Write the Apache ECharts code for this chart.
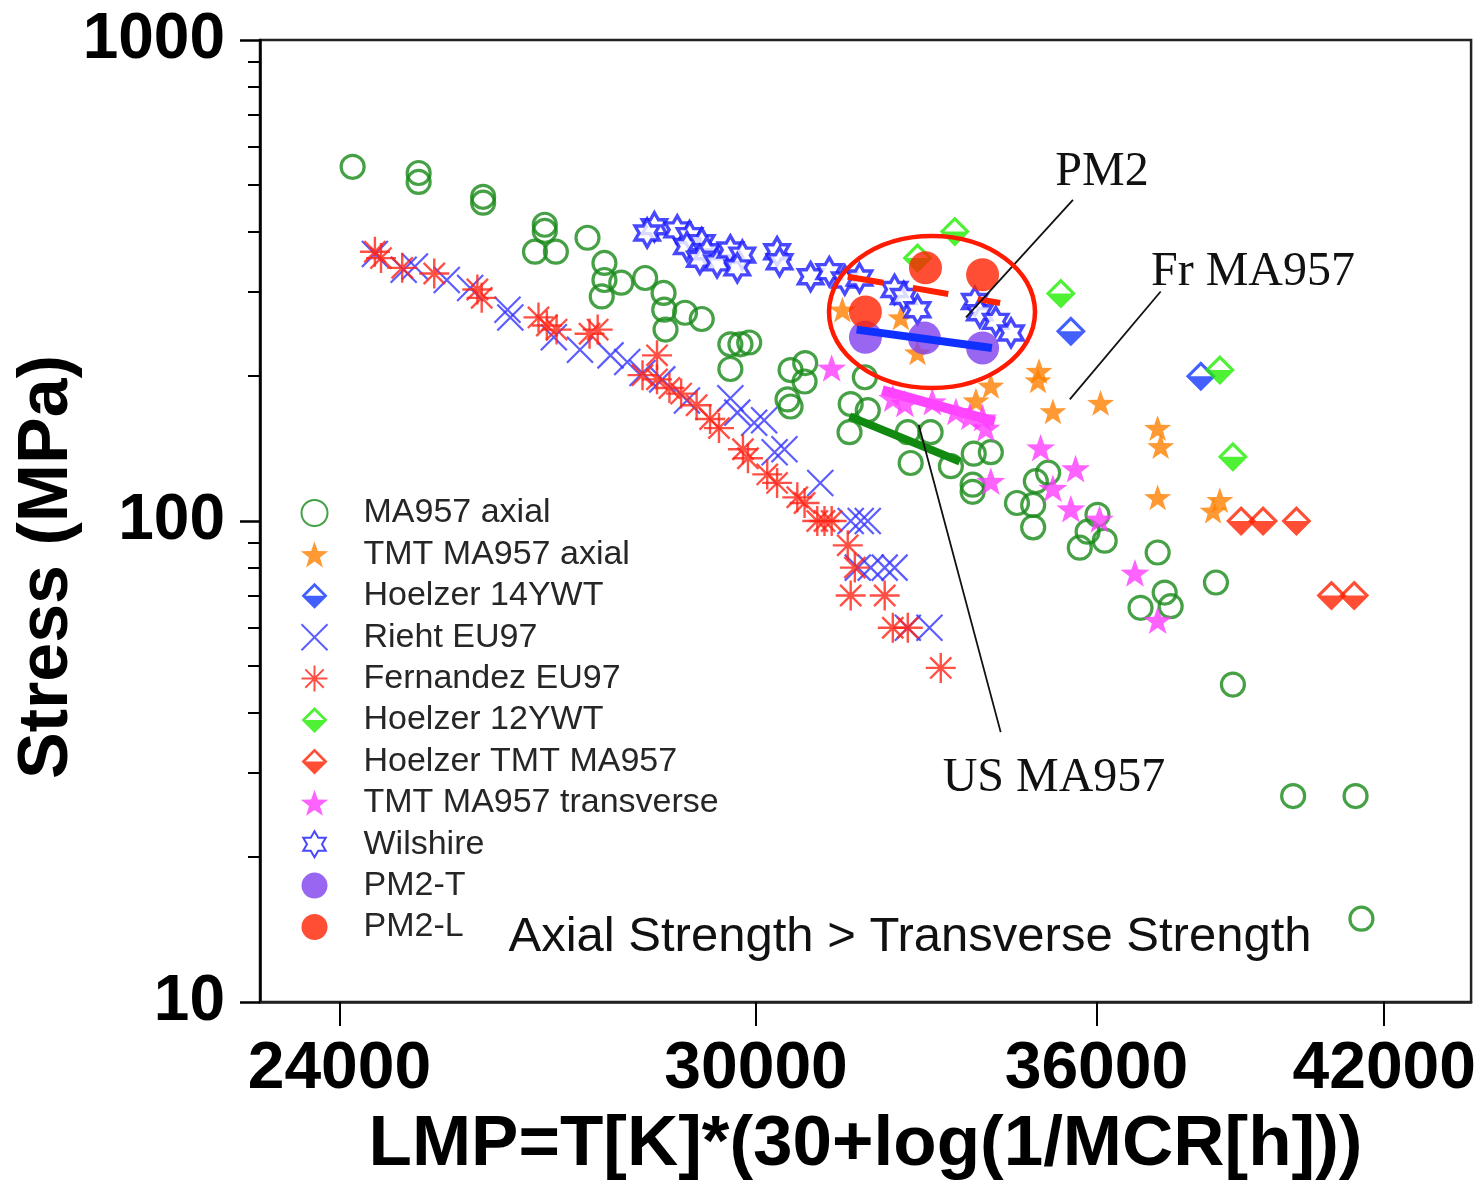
<!DOCTYPE html>
<html><head><meta charset="utf-8">
<script src="https://cdn.jsdelivr.net/npm/echarts@6/dist/echarts.min.js"></script>
<style>html,body{margin:0;padding:0;background:#fff}#c{width:1479px;height:1186px}</style>
</head><body><div id="c"></div>
<script>
// ---------- DATA (LMP, Stress MPa) ----------
const ma957AxialLMP = [24170,25040,25040,25920,25920,26790,26790,26650,26950,27410,27660,27660,27620,27910,28270,28550,28560,28580,28880,29140,29590,29750,29890,29590,30560,30800,30790,30510,30560,31800,31560,31850,31540,32540,32940,32590,33300,33710,34020,33690,33690,34500,34800,34800,34850,35080,36020,35830,35680,36160,37200,37340,36860,37460,38380,38730,40000,41360,41490];
const ma957AxialStress = [545,529,507,472,459,413,401,363,363,388,344,317,293,313,320,298,275,250,271,263,233,233,235,207,206,213,195,179,173,199,175,170,153,153,153,132,130,138,139,119,115,109,108,97,121,126,103,95,88,91,86,71,66,66.5,74.5,45.7,26.8,26.8,14.9];

const tmtAxialLMP = [31420,32420,32710,33750,34020,34910,34890,35170,36080,37200,37260,37200,38460,38320];
const tmtAxialStress = [275,265,224,178,191,205,196,169,176,156,143,112,110.5,105];

const h14LMP = [35510,38070];
const h14Stress = [248,200];

const riehtLMP = [24460,24840,24990,25420,25740,26260,26300,26920,27300,27750,28000,28230,28530,28910,29590,29700,29970,30130,30460,30300,31050,31560,31730,31850,31680,31900,32140,32310,32540,32920];
const riehtStress = [359,333,338,317,305,275,265,241,227,221,214,203,197,178,180,168,160,162,141,139,120,100,100,100,80,80,80,80,60,60];

const fernLMP = [24460,24540,24820,25250,25840,25900,26700,26820,26960,27440,27560,28450,28230,28450,28640,28820,29060,29270,29410,29790,29870,30180,30340,30670,30790,31000,31120,31240,31510,31630,31560,32140,32280,32540,33120];
const fernStress = [363,352,336,327,303,291,265,255,250,245,250,221,201,197,189,184,174,163,156,141,135,125,120,112,109,100,100,100,89,80,70,70,60,60,49.5];

const h12LMP = [33370,32710,35320,38460,38730];
const h12Stress = [400,352,297,206,136];

const hTmtLMP = [38900,39360,40070,40830,41330];
const hTmtStress = [100,100,100,70,70];

const tmtTransLMP = [31240,32280,32490,32970,33390,33640,33870,33930,34020,34940,35600,35170,35510,36060,36750,37200];
const tmtTransStress = [208,180,175.5,177,169,165,164,156,121,142,128.5,117,106,101,78,62.2];

const wilshireLMP = [28410,28300,28760,28950,28910,29140,29220,29110,29380,29590,29780,29700,30340,30380,30890,31200,31460,31710,32310,32470,32710,33730,33820,34110,34390];
const wilshireStress = [409,397,403,392,372,379,363,350,344,366,357,336,363,346,322,330,317,320,303,293,275,286,271,260,246];

const pm2TLMP = [31810,32830,33870];
const pm2TStress = [241,240,229];
const pm2LLMP = [31810,32850,33870];
const pm2LStress = [272,336,325];

// trend lines
const fitPM2L_LMP = [31510,34190], fitPM2L_Stress = [322,284];
const fitPM2T_LMP = [31660,34040], fitPM2T_Stress = [250,229];
const fitUS_LMP = [31540,33460], fitUS_Stress = [165,133];
const fitTrans_LMP = [32100,34090], fitTrans_Stress = [187,161];

// annotation leader lines
const leaderPM2_LMP = [35550,33570], leaderPM2_Stress = [465,265];
const leaderFr_LMP = [37260,35490], leaderFr_Stress = [300,179];
const leaderUS_LMP = [32730,34200], leaderUS_Stress = [158.6,36.4];

// ticks
const xTickValues = [24000,30000,36000,42000];
const yMinorTicks = [20,30,40,50,60,70,80,90,200,300,400,500,600,700,800,900];

// ---------- helpers ----------
const zip = (xs, ys) => xs.map((x, i) => [x, ys[i]]);
const SANS = '"Liberation Sans", Arial, Helvetica, sans-serif';
const SERIF = '"Liberation Serif", "Times New Roman", serif';

const STAR5 = 'path://M10,0 L12.35,6.76 L19.51,6.91 L13.8,11.24 L15.88,18.09 L10,14 L4.12,18.09 L6.2,11.24 L0.49,6.91 L7.65,6.76 Z';
const HEXA = 'path://M10,0 L12.885,5 L18.66,5 L15.77,10 L18.66,15 L12.885,15 L10,20 L7.115,15 L1.34,15 L4.23,10 L1.34,5 L7.115,5 Z';
const HALFDIA = 'path://M10,0 L20,10 L10,20 L0,10 Z M10,3 L3,10 L17,10 Z';
const CROSS = 'path://M0,0 L20,20 M20,0 L0,20';
const ASTER = 'path://M0,10 L20,10 M10,0 L10,20 M2.93,2.93 L17.07,17.07 M17.07,2.93 L2.93,17.07';

function sc(name, data, symbol, size, itemStyle) {
  return { name, type: 'scatter', data, symbol, symbolSize: size, symbolKeepAspect: true,
    itemStyle, emphasis: { disabled: true }, silent: true };
}
function ln(data, color, width, type) {
  return { type: 'line', data, showSymbol: false, symbol: 'none', silent: true,
    lineStyle: { color, width, type: type || 'solid', cap: 'butt' }, z: 5, emphasis: { disabled: true } };
}

const series = [
  sc('MA957 axial', zip(ma957AxialLMP, ma957AxialStress), 'circle', 23, { color: 'rgba(0,0,0,0)', borderColor: '#188a18', borderWidth: 3.2 }),
  sc('TMT MA957 axial', zip(tmtAxialLMP, tmtAxialStress), STAR5, 27, { color: '#ff7f00' }),
  sc('Hoelzer 14YWT', zip(h14LMP, h14Stress), HALFDIA, 30, { color: '#1438ff' }),
  sc('Rieht EU97', zip(riehtLMP, riehtStress), CROSS, 26, { color: 'none', borderColor: '#3535ff', borderWidth: 2.2 }),
  sc('Fernandez EU97', zip(fernLMP, fernStress), ASTER, 30, { color: 'none', borderColor: '#ff2418', borderWidth: 2.4 }),
  sc('Hoelzer 12YWT', zip(h12LMP, h12Stress), HALFDIA, 30, { color: '#22ee00' }),
  sc('Hoelzer TMT MA957', zip(hTmtLMP, hTmtStress), HALFDIA, 30, { color: '#ff2200' }),
  sc('TMT MA957 transverse', zip(tmtTransLMP, tmtTransStress), STAR5, 29, { color: '#ff3cff' }),
  sc('Wilshire', zip(wilshireLMP, wilshireStress), HEXA, 28, { color: '#ffffff', borderColor: '#1a1aff', borderWidth: 3.4 }),
  sc('PM2-T', zip(pm2TLMP, pm2TStress), 'circle', 33, { color: '#8040ee' }),
  sc('PM2-L', zip(pm2LLMP, pm2LStress), 'circle', 33, { color: '#ff2200' }),
  ln(zip(fitTrans_LMP, fitTrans_Stress), '#ff44ff', 10),
  ln(zip(fitUS_LMP, fitUS_Stress), '#128a12', 8),
  ln(zip(fitPM2T_LMP, fitPM2T_Stress), '#1030ff', 8),
  ln(zip(fitPM2L_LMP, fitPM2L_Stress), '#ff2200', 6, [36, 30]),
  ln(zip(leaderPM2_LMP, leaderPM2_Stress), '#111', 1.8),
  ln(zip(leaderFr_LMP, leaderFr_Stress), '#111', 1.8),
  ln(zip(leaderUS_LMP, leaderUS_Stress), '#111', 1.8)
];

const chart = echarts.init(document.getElementById('c'), null, { renderer: 'canvas' });
chart.setOption({
  animation: false,
  backgroundColor: '#fff',
  grid: { left: 260, top: 40, right: 7, bottom: 183, show: true, borderColor: '#222', borderWidth: 2.5, backgroundColor: 'transparent' },
  legend: {
    orient: 'vertical', left: 294, top: 491, itemWidth: 88, itemHeight: 26, itemGap: 7.4,
    selectedMode: false,
    textStyle: { fontSize: 34, color: '#262626', fontFamily: SANS },
    data: ['MA957 axial','TMT MA957 axial','Hoelzer 14YWT','Rieht EU97','Fernandez EU97','Hoelzer 12YWT','Hoelzer TMT MA957','TMT MA957 transverse','Wilshire','PM2-T','PM2-L']
  },
  xAxis: {
    type: 'log', logBase: 10, min: 23000, max: 44000,
    name: 'LMP=T[K]*(30+log(1/MCR[h]))', nameLocation: 'middle', nameGap: 108,
    nameTextStyle: { fontSize: 71, fontWeight: 'bold', color: '#000', fontFamily: SANS },
    axisLine: { lineStyle: { color: '#222', width: 2.5 } },
    axisTick: { customValues: xTickValues, length: 24, lineStyle: { color: '#000', width: 2 } },
    axisLabel: { customValues: xTickValues, formatter: v => String(Math.round(v)), fontSize: 66, fontWeight: 'bold', color: '#000', margin: 35, fontFamily: SANS },
    splitLine: { show: false }, minorTick: { show: false }
  },
  yAxis: [{
    type: 'log', logBase: 10, min: 10, max: 1000,
    axisLine: { lineStyle: { color: '#000', width: 2.5 } },
    axisTick: { length: 20, lineStyle: { color: '#000', width: 2.5 } },
    axisLabel: { formatter: v => String(Math.round(v)), fontSize: 64, fontWeight: 'bold', color: '#000', margin: 35, fontFamily: SANS },
    splitLine: { show: false }
  }, {
    type: 'log', logBase: 10, min: 10, max: 1000, position: 'left', offset: 0,
    axisLine: { show: false },
    axisTick: { customValues: yMinorTicks, length: 12, lineStyle: { color: '#000', width: 2 } },
    axisLabel: { show: false }, splitLine: { show: false }
  }],
  series: series,
  graphic: [
    { type: 'text', x: 48, y: 567, rotation: Math.PI / 2, style: { text: 'Stress (MPa)', font: 'bold 70px ' + SANS, fill: '#000', align: 'center', verticalAlign: 'middle' } },
    { type: 'ellipse', shape: { cx: 932, cy: 312, rx: 103, ry: 76 }, style: { fill: 'none', stroke: '#ff1a00', lineWidth: 4.5 }, z: 10 },
    { type: 'text', x: 1102, y: 172, style: { text: 'PM2', font: '48px ' + SERIF, fill: '#111', align: 'center', verticalAlign: 'middle' }, z: 10 },
    { type: 'text', x: 1253, y: 272, style: { text: 'Fr MA957', font: '48px ' + SERIF, fill: '#111', align: 'center', verticalAlign: 'middle' }, z: 10 },
    { type: 'text', x: 1054, y: 778, style: { text: 'US MA957', font: '48px ' + SERIF, fill: '#111', align: 'center', verticalAlign: 'middle' }, z: 10 },
    { type: 'text', x: 910, y: 937, style: { text: 'Axial Strength > Transverse Strength', font: '49px ' + SANS, fill: '#111', align: 'center', verticalAlign: 'middle' }, z: 10 }
  ]
});
</script></body></html>
